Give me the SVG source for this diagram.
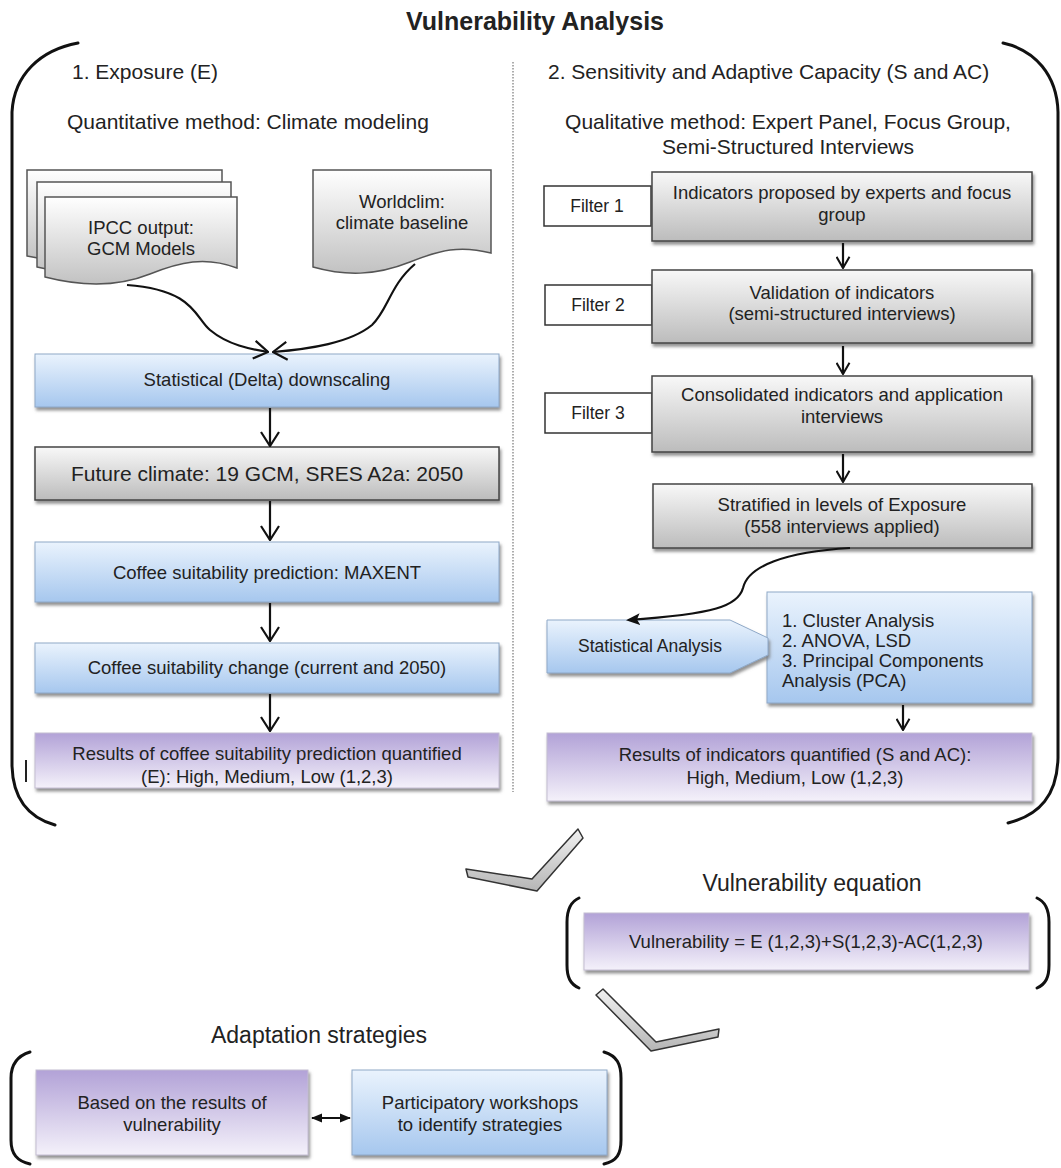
<svg xmlns="http://www.w3.org/2000/svg" width="1061" height="1168" viewBox="0 0 1061 1168">
<defs>
  <linearGradient id="gBlue" x1="0" y1="0" x2="0" y2="1"><stop offset="0" stop-color="#eaf3fd"/><stop offset="1" stop-color="#a6c7ee"/></linearGradient>
  <linearGradient id="gGrey" x1="0" y1="0" x2="0" y2="1"><stop offset="0" stop-color="#f8f8f8"/><stop offset="1" stop-color="#bcbcbc"/></linearGradient>
  <linearGradient id="gPurple" x1="0" y1="0" x2="0" y2="1"><stop offset="0" stop-color="#b2a2d7"/><stop offset="1" stop-color="#f4f1fa"/></linearGradient>
  <linearGradient id="gDoc" x1="0" y1="0" x2="0" y2="1"><stop offset="0" stop-color="#ffffff"/><stop offset="1" stop-color="#c2c2c2"/></linearGradient>
  <linearGradient id="gChev" x1="0" y1="0" x2="0" y2="1"><stop offset="0" stop-color="#f2f2f2"/><stop offset="1" stop-color="#b5b5b5"/></linearGradient>
  <filter id="sh" x="-5%" y="-10%" width="112%" height="130%">
    <feDropShadow dx="1.5" dy="3" stdDeviation="1.5" flood-color="#777" flood-opacity="0.8"/>
  </filter>
  <marker id="open" viewBox="0 0 16 20" markerWidth="16" markerHeight="20" refX="15" refY="10" orient="auto" markerUnits="userSpaceOnUse">
    <path d="M1,1 L15,10 L1,19" fill="none" stroke="#111" stroke-width="2.2"/>
  </marker>
  <marker id="openS" viewBox="0 0 14 16" markerWidth="13" markerHeight="15" refX="13" refY="8" orient="auto" markerUnits="userSpaceOnUse">
    <path d="M1,1 L13,8 L1,15" fill="none" stroke="#111" stroke-width="2.2"/>
  </marker>
  <marker id="solid" viewBox="0 0 14 12" markerWidth="14" markerHeight="12" refX="12" refY="6" orient="auto" markerUnits="userSpaceOnUse">
    <path d="M0,0 L14,6 L0,12 L3,6 Z" fill="#111"/>
  </marker>
  <marker id="solidS" viewBox="0 0 12 10" markerWidth="11" markerHeight="10" refX="11" refY="5" orient="auto-start-reverse" markerUnits="userSpaceOnUse">
    <path d="M0,0 L12,5 L0,10 Z" fill="#111"/>
  </marker>
</defs>
<style>
  text { font-family: "Liberation Sans", Arial, sans-serif; fill: #222; }
  .c { text-anchor: middle; }
  .f18 { font-size: 18.5px; }
  .f17 { font-size: 17.5px; }
  .f21 { font-size: 21px; }
  .f23 { font-size: 23px; }
  .title { font-size: 25px; font-weight: bold; }
  .blue { fill: url(#gBlue); stroke: #8fa9c8; stroke-width: 1; filter: url(#sh); }
  .grey { fill: url(#gGrey); stroke: #444; stroke-width: 1.5; filter: url(#sh); }
  .purple { fill: url(#gPurple); stroke: #c4bdd2; stroke-width: 1; filter: url(#sh); }
  .doc { fill: url(#gDoc); stroke: #555; stroke-width: 1.5; }
  .filt { fill: #fff; stroke: #333; stroke-width: 1.5; }
  .brk { fill: none; stroke: #111; stroke-width: 3; stroke-linecap: round; }
  .con { fill: none; stroke: #111; stroke-width: 2.2; }
  .chev { fill: url(#gChev); stroke: #333; stroke-width: 1.5; stroke-linejoin: round; }
</style>

<g id="frame">
  <text class="title c" x="535" y="30">Vulnerability Analysis</text>
  <path class="brk" d="M78,43 C40,50 14,75 12,112 L12,766 C13,800 30,818 55,825"/>
  <path class="brk" d="M1003,43 C1035,50 1057,75 1058,112 L1058,758 C1057,795 1040,815 1008,823"/>
  <line x1="513" y1="62" x2="513" y2="792" stroke="#777" stroke-width="1.2" stroke-dasharray="1.5,1.5"/>
  <line x1="26" y1="760" x2="26" y2="782" stroke="#222" stroke-width="2"/>
  <text class="f21" x="72" y="79">1. Exposure (E)</text>
  <text class="f21" x="67" y="129">Quantitative method: Climate modeling</text>
  <text class="f21" x="548" y="79">2. Sensitivity and Adaptive Capacity (S and AC)</text>
  <text class="f21 c" x="788" y="129">Qualitative method: Expert Panel, Focus Group,</text>
  <text class="f21 c" x="788" y="154">Semi-Structured Interviews</text>
</g>

<g id="ipcc">
  <path class="doc" d="M27,170 H222 V243 C190,233 165,238 135,250 C100,263 60,263 27,256 Z"/>
  <path class="doc" d="M37,182 H231 V255 C200,245 175,250 145,262 C110,275 70,275 37,267 Z"/>
  <path class="doc" d="M45,197 H237 V268 C205,256 180,262 150,274 C115,288 80,286 45,277 Z"/>
  <text class="f18 c" x="141" y="234">IPCC output:</text>
  <text class="f18 c" x="141" y="255">GCM Models</text>
</g>
<g id="worldclim">
  <path class="doc" d="M313,170 H491 V253 C460,245 440,250 410,262 C375,276 345,276 313,267 Z"/>
  <text class="f18 c" x="402" y="208">Worldclim:</text>
  <text class="f18 c" x="402" y="229">climate baseline</text>
</g>
<g id="downscaling">
  <rect class="blue" x="35" y="354" width="464" height="53"/>
  <text class="f18 c" x="267" y="386">Statistical (Delta) downscaling</text>
</g>
<g id="future">
  <rect class="grey" x="35" y="447" width="464" height="53"/>
  <text class="f21 c" x="267" y="481">Future climate: 19 GCM, SRES A2a: 2050</text>
</g>
<g id="maxent">
  <rect class="blue" x="35" y="542" width="464" height="60"/>
  <text class="f18 c" x="267" y="579">Coffee suitability prediction: MAXENT</text>
</g>
<g id="change">
  <rect class="blue" x="35" y="643" width="464" height="50"/>
  <text class="f18 c" x="267" y="674">Coffee suitability change (current and 2050)</text>
</g>
<g id="resultsE">
  <rect class="purple" x="35" y="733" width="464" height="55"/>
  <text class="f18 c" x="267" y="760">Results of coffee suitability prediction quantified</text>
  <text class="f18 c" x="267" y="783">(E): High, Medium, Low (1,2,3)</text>
</g>

<g id="filter1">
  <rect class="filt" x="544" y="186" width="107" height="40"/>
  <text class="f17 c" x="597" y="212">Filter 1</text>
</g>
<g id="indicators">
  <rect class="grey" x="652" y="172" width="380" height="69"/>
  <text class="f18 c" x="842" y="199">Indicators proposed by experts and focus</text>
  <text class="f18 c" x="842" y="221">group</text>
</g>
<g id="filter2">
  <rect class="filt" x="545" y="285" width="107" height="40"/>
  <text class="f17 c" x="598" y="311">Filter 2</text>
</g>
<g id="validation">
  <rect class="grey" x="652" y="270" width="380" height="73"/>
  <text class="f18 c" x="842" y="299">Validation of indicators</text>
  <text class="f18 c" x="842" y="320">(semi-structured interviews)</text>
</g>
<g id="filter3">
  <rect class="filt" x="545" y="393" width="107" height="40"/>
  <text class="f17 c" x="598" y="419">Filter 3</text>
</g>
<g id="consolidated">
  <rect class="grey" x="652" y="376" width="380" height="76"/>
  <text class="f18 c" x="842" y="401">Consolidated indicators and application</text>
  <text class="f18 c" x="842" y="423">interviews</text>
</g>
<g id="stratified">
  <rect class="grey" x="653" y="484" width="379" height="64"/>
  <text class="f18 c" x="842" y="511">Stratified in levels of Exposure</text>
  <text class="f18 c" x="842" y="533">(558 interviews applied)</text>
</g>
<g id="methods">
  <rect class="blue" x="767" y="592" width="265" height="111"/>
  <text class="f18" x="782" y="627">1. Cluster Analysis</text>
  <text class="f18" x="782" y="647">2. ANOVA, LSD</text>
  <text class="f18" x="782" y="667">3. Principal Components</text>
  <text class="f18" x="782" y="687">Analysis (PCA)</text>
</g>
<g id="statAnalysis">
  <path class="blue" d="M547,620 H730 L768,638 L768,655 L730,673 H547 Z"/>
  <text class="f17 c" x="650" y="652">Statistical Analysis</text>
</g>
<g id="resultsSAC">
  <rect class="purple" x="547" y="733" width="485" height="68"/>
  <text class="f18 c" x="795" y="761">Results of indicators quantified (S and AC):</text>
  <text class="f18 c" x="795" y="784">High, Medium, Low (1,2,3)</text>
</g>

<g id="equation">
  <text class="f23 c" x="812" y="891">Vulnerability equation</text>
  <path class="brk" d="M579,898 C570,902 567,910 567,922 L567,965 C567,977 570,984 579,988"/>
  <path class="brk" d="M1037,898 C1046,902 1049,910 1049,922 L1049,965 C1049,977 1046,984 1037,988"/>
  <rect class="purple" x="584" y="913" width="445" height="57"/>
  <text class="f18 c" x="806" y="948">Vulnerability = E (1,2,3)+S(1,2,3)-AC(1,2,3)</text>
</g>

<g id="adaptation">
  <text class="f23 c" x="319" y="1043">Adaptation strategies</text>
  <path class="brk" d="M30,1052 C17,1056 11,1064 11,1078 L11,1140 C11,1154 17,1161 30,1164"/>
  <path class="brk" d="M604,1052 C617,1056 621,1064 621,1078 L621,1140 C621,1154 617,1161 604,1164"/>
  <rect class="purple" x="36" y="1070" width="272" height="85"/>
  <text class="f18 c" x="172" y="1109">Based on the results of</text>
  <text class="f18 c" x="172" y="1131">vulnerability</text>
  <rect class="blue" x="352" y="1070" width="255" height="85"/>
  <text class="f18 c" x="480" y="1109">Participatory workshops</text>
  <text class="f18 c" x="480" y="1131">to identify strategies</text>
</g>

<g id="chevrons">
  <path class="chev" d="M466,869 L532,879 L578,829 L583,838 L537,891 L468,877 Z"/>
  <path class="chev" d="M596,995 L603,989 L656,1042 L719,1029 L718,1037 L651,1051 Z"/>
</g>

<g id="connectors">
  <path class="con" d="M127,285 C195,290 195,318 210,330 C228,345 250,349 268,352" marker-end="url(#open)"/>
  <path class="con" d="M415,264 C390,285 388,310 372,325 C350,343 310,349 273,352" marker-end="url(#open)"/>
  <line class="con" x1="270" y1="408" x2="270" y2="446" marker-end="url(#open)"/>
  <line class="con" x1="270" y1="501" x2="270" y2="540" marker-end="url(#open)"/>
  <line class="con" x1="270" y1="603" x2="270" y2="641" marker-end="url(#open)"/>
  <line class="con" x1="270" y1="694" x2="270" y2="731" marker-end="url(#open)"/>
  <line class="con" x1="843" y1="243" x2="843" y2="268" marker-end="url(#openS)"/>
  <line class="con" x1="843" y1="346" x2="843" y2="374" marker-end="url(#openS)"/>
  <line class="con" x1="843" y1="454" x2="843" y2="482" marker-end="url(#openS)"/>
  <path class="con" d="M850,548 C785,552 748,566 743,588 C738,606 715,614 628,620" marker-end="url(#solid)"/>
  <line class="con" x1="903" y1="705" x2="903" y2="730" marker-end="url(#openS)"/>
  <line class="con" x1="312" y1="1118" x2="350" y2="1118" marker-start="url(#solidS)" marker-end="url(#solidS)"/>
</g>
</svg>
